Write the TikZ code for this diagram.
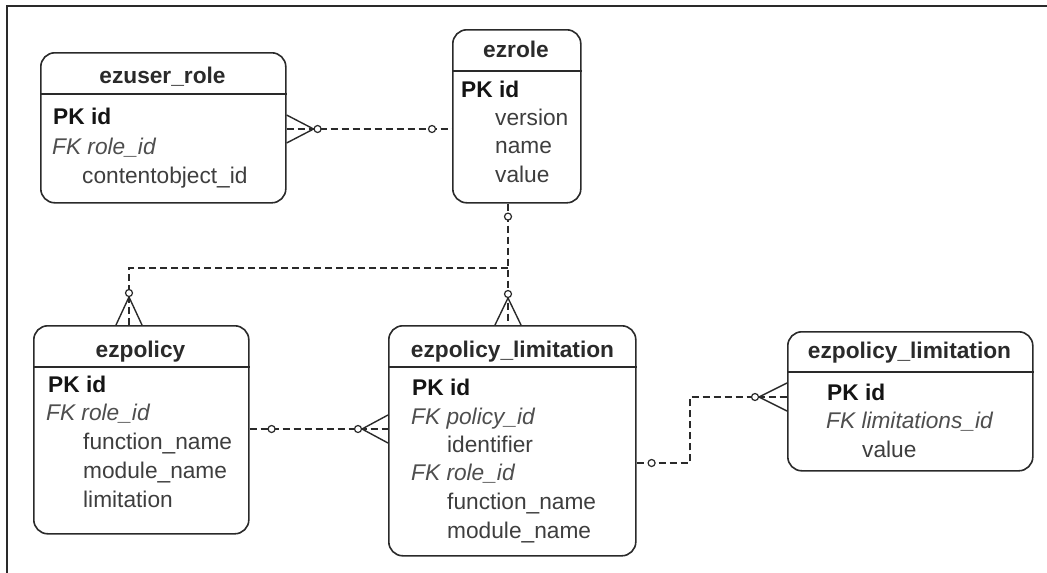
\documentclass[tikz,border=0pt]{standalone}
\usepackage{fontspec}
\setmainfont{Liberation Sans}
\usetikzlibrary{calc}
\definecolor{ink}{HTML}{2A2A2A}
\definecolor{attrc}{HTML}{3E3E3E}
\definecolor{fkc}{HTML}{4E4E4E}
\newcommand{\efont}{\fontsize{22.7}{28}\selectfont}
\tikzset{
  entity/.style={draw=ink, line width=1.6pt, rounded corners=14pt, inner sep=0pt, anchor=north west},
  hline/.style={draw=ink, line width=1.6pt},
  etitle/.style={font=\efont\bfseries, text=ink, anchor=base, inner sep=0pt},
  epk/.style={font=\efont\bfseries, text=black!92, anchor=base west, inner sep=0pt},
  efk/.style={font=\efont\itshape, text=fkc, anchor=base west, inner sep=0pt},
  eattr/.style={font=\efont, text=attrc, anchor=base west, inner sep=0pt},
  rel/.style={draw=ink, line width=1.4pt, dash pattern=on 7pt off 4pt},
  crow/.style={draw=ink, line width=1.4pt},
  ring/.style={circle, draw=ink, fill=white, line width=1.2pt, inner sep=0pt, minimum size=7pt},
}
\begin{document}
\begin{tikzpicture}[x=1pt, y=-1pt]
\useasboundingbox (0,0) rectangle (1047,573);
\fill[white] (0,0) rectangle (1047,573);
% frame
\draw[ink, line width=2pt] (7,573) -- (7,6) -- (1047,6);

% ezuser_role
\node[entity, minimum width=245pt, minimum height=150pt] (ur) at (40,52) {};
\draw[hline] ($(ur.north west)+(0,42)$) -- ($(ur.north east)+(0,42)$);
\node[etitle] (urt) at (162.5,83) {ezuser\_role};
\node[epk] (ur1) at (53,124) {PK id};
\node[efk] (ur2) at (52,154) {FK role\_id};
\node[eattr] (ur3) at (82,183) {contentobject\_id};

% ezrole
\node[entity, minimum width=128pt, minimum height=173pt] (role) at (452,29) {};
\draw[hline] ($(role.north west)+(0,42)$) -- ($(role.north east)+(0,42)$);
\node[etitle] (rolet) at (516,57) {ezrole};
\node[epk] (role1) at (461,97) {PK id};
\node[eattr] (role2) at (495,125) {version};
\node[eattr] (role3) at (495,153) {name};
\node[eattr] (role4) at (495,182) {value};

% ezpolicy
\node[entity, minimum width=215pt, minimum height=208pt] (pol) at (33,325) {};
\draw[hline] ($(pol.north west)+(0,42)$) -- ($(pol.north east)+(0,42)$);
\node[etitle] (polt) at (140.5,357) {ezpolicy};
\node[epk] (pol1) at (48,392) {PK id};
\node[efk] (pol2) at (46,420) {FK role\_id};
\node[eattr] (pol3) at (83,449) {function\_name};
\node[eattr] (pol4) at (83,478) {module\_name};
\node[eattr] (pol5) at (83,507) {limitation};

% ezpolicy_limitation (middle)
\node[entity, minimum width=247pt, minimum height=230pt] (pl) at (388,325) {};
\draw[hline] ($(pl.north west)+(0,42)$) -- ($(pl.north east)+(0,42)$);
\node[etitle] (plt) at (512.5,357) {ezpolicy\_limitation};
\node[epk] (pl1) at (412,395) {PK id};
\node[efk] (pl2a) at (411,424) {FK policy\_id};
\node[eattr] (pl3) at (447,452) {identifier};
\node[efk] (pl4) at (411,480) {FK role\_id};
\node[eattr] (pl5) at (447,509) {function\_name};
\node[eattr] (pl6) at (447,538) {module\_name};

% ezpolicy_limitation (right)
\node[entity, minimum width=245pt, minimum height=139pt] (plv) at (787,331) {};
\draw[hline] ($(plv.north west)+(0,41)$) -- ($(plv.north east)+(0,41)$);
\node[etitle] (plvt) at (909.5,358) {ezpolicy\_limitation};
\node[epk] (plv1) at (827,400) {PK id};
\node[efk] (plv2) at (826,428) {FK limitations\_id};
\node[eattr] (plv3) at (862,457) {value};

% helper coordinates
\coordinate (y1) at (0,129);
\coordinate (y3) at (0,429);
\coordinate (j1) at (508,268);
\coordinate (k1) at (129,268);
\coordinate (b1) at (690,463);
\coordinate (b2) at (690,397);

\coordinate (e1) at (ur.east |- y1);
\coordinate (e2) at (role.west |- y1);
\coordinate (e3) at (role.south -| j1);
\coordinate (e4) at (pol.north -| k1);
\coordinate (e5) at (pl.north -| j1);
\coordinate (e6) at (pol.east |- y3);
\coordinate (e7) at (pl.west |- y3);
\coordinate (e8) at (pl.east |- b1);
\coordinate (e9) at (plv.west |- b2);

% connectors
\draw[rel] (e1) -- (e2);
\draw[rel] (e3) -- (e5);
\draw[rel] (j1) -- (k1) -- (e4);
\draw[rel] (e6) -- (e7);
\draw[rel] (e8) -- (b1) -- (b2) -- (e9);

% crow's feet
\draw[crow] ($(e1)+(0,-14)$) -- ($(e1)+(27,0)$) -- ($(e1)+(0,14)$);
\draw[crow] ($(e4)+(-13,0)$) -- ($(e4)+(0,-28)$) -- ($(e4)+(13,0)$);
\draw[crow] ($(e5)+(-13,0)$) -- ($(e5)+(0,-27)$) -- ($(e5)+(13,0)$);
\draw[crow] ($(e7)+(0,-14)$) -- ($(e7)+(-26,0)$) -- ($(e7)+(0,14)$);
\draw[crow] ($(e9)+(0,-14)$) -- ($(e9)+(-28,0)$) -- ($(e9)+(0,14)$);

% rings
\node[ring] (r1) at ($(e1)+(31,0)$) {};
\node[ring] (r2) at ($(e2)+(-20,0)$) {};
\node[ring] (r3) at ($(e3)+(0,13)$) {};
\node[ring] (r4) at ($(e4)+(0,-32)$) {};
\node[ring] (r5) at ($(e5)+(0,-31)$) {};
\node[ring] (r6) at ($(e6)+(22,0)$) {};
\node[ring] (r7) at ($(e7)+(-30,0)$) {};
\node[ring] (r8) at ($(e8)+(15,0)$) {};
\node[ring] (r9) at ($(e9)+(-32,0)$) {};
\end{tikzpicture}
\end{document}
